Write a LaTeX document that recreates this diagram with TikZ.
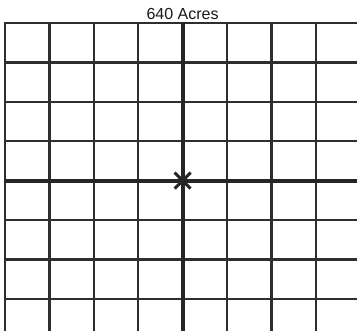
\documentclass[tikz,border=0pt]{standalone}
\usepackage{fontspec}
\setmainfont{Liberation Sans}
\usetikzlibrary{calc}
\begin{document}
\begin{tikzpicture}[x=1pt, y=-1pt,
    gridLine/.style={line width=2.4pt, draw=black!82},
    axisLine/.style={line width=4pt, draw=black!85},
    titleText/.style={font=\fontsize{16}{18}\selectfont, text=black!90, inner sep=0pt, anchor=base}
]
    \useasboundingbox (0,0) rectangle (357,331);
    \node[titleText] (title) at (182.6,19.5) {640 Acres};

    % quarter-quarter lines
    \foreach \i in {0,...,7} {
        \draw[gridLine] (5+44.4*\i,22) -- (5+44.4*\i,331);
        \draw[gridLine] (4,23+39.4*\i) -- (357,23+39.4*\i);
    }

    % center lines
    \coordinate (center) at (182.6,180.6);
    \draw[axisLine] (182.6,22) -- (182.6,331);
    \draw[axisLine] (4,180.6) -- (357,180.6);

    % center mark
    \draw[line width=3pt, draw=black!85] ($(center)+(-8,-8)$) -- ($(center)+(8,8)$);
    \draw[line width=3pt, draw=black!85] ($(center)+(-8,8)$) -- ($(center)+(8,-8)$);
    \fill[black!85] (center) circle (5);
\end{tikzpicture}
\end{document}
